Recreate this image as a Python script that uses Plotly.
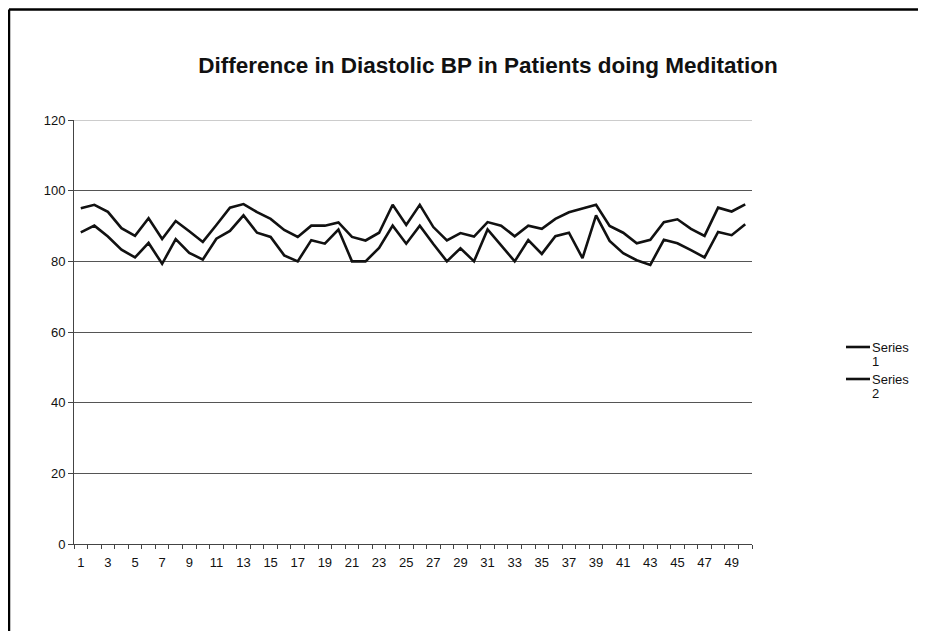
import plotly.graph_objects as go

patients = list(range(1, 51))
series1 = [95, 96, 94, 89.4, 87.2, 92.2, 86.3, 91.4, 88.5, 85.5,
           90.3, 95.2, 96.2, 93.9, 92, 88.9, 86.9, 90.1, 90.1, 91,
           86.9, 85.9, 88.1, 96, 90.3, 96, 89.7, 85.9, 88, 87,
           91.1, 90.1, 87.1, 90.1, 89.2, 92, 93.9, 94.9, 96, 90,
           88.1, 85.1, 86.1, 91.1, 91.9, 89.2, 87.2, 95.2, 94.1, 96.1]
series2 = [88.2, 90.1, 87, 83.3, 81.1, 85.2, 79.3, 86.3, 82.4, 80.5,
           86.4, 88.6, 93, 88.1, 86.9, 81.7, 80, 86, 85, 89,
           80, 80, 83.8, 90.1, 85, 90.1, 84.9, 80, 83.7, 80,
           89, 84.5, 80, 86, 82.1, 87.1, 88.1, 80.9, 93, 85.8,
           82.3, 80.3, 79, 86.1, 85.1, 83.2, 81.1, 88.3, 87.4, 90.5]
series_names = ["Series 1", "Series 2"]
legend_words = ["Series", "Series"]
legend_numbers = ["1", "2"]
x_tick_vals = list(range(1, 50, 2))
x_tick_text = [str(v) for v in x_tick_vals]
y_tick_vals = [0, 20, 40, 60, 80, 100, 120]
title_text = "Difference in Diastolic BP in Patients doing Meditation"

OFF = 8  # page body margin
W, H = 926, 631
# plot area in screen pixels
SX0, SX1, SY0, SY1 = 74, 752, 120, 544
L, R, T, B = SX0 - OFF, W - (SX1 - OFF), SY0 - OFF, H - (SY1 - OFF)
pw, ph = W - L - R, H - T - B

def px(x):  # screen x -> paper
    return (x - OFF - L) / pw

def py(y):  # screen y -> paper
    return (H - B - (y - OFF)) / ph

fig = go.Figure()
for name, vals in zip(series_names, [series1, series2]):
    fig.add_trace(go.Scatter(x=patients, y=vals, mode="lines", name=name,
                             line=dict(color="#111111", width=2.6),
                             showlegend=False))

shapes = [
    dict(type="line", xref="paper", yref="paper", x0=px(9), x1=px(940),
         y0=py(9.5), y1=py(9.5), line=dict(color="black", width=2.5)),
    dict(type="line", xref="paper", yref="paper", x0=px(9), x1=px(9),
         y0=py(9.5), y1=py(650), line=dict(color="black", width=2.5)),
    dict(type="line", xref="paper", yref="y", x0=0, x1=1, y0=120, y1=120,
         line=dict(color="#999999", width=1)),
]
annotations = []
legend_y = [347, 379]
for word, num, yy in zip(legend_words, legend_numbers, legend_y):
    shapes.append(dict(type="line", xref="paper", yref="paper",
                       x0=px(846), x1=px(870), y0=py(yy), y1=py(yy),
                       line=dict(color="#111111", width=2.6)))
    annotations.append(dict(text=word, xref="paper", yref="paper",
                            x=px(870), y=py(yy), xanchor="left", yanchor="middle",
                            showarrow=False, align="left",
                            font=dict(size=13, color="#111111")))
    annotations.append(dict(text=num, xref="paper", yref="paper",
                            x=px(870), y=py(yy + 14), xanchor="left", yanchor="middle",
                            showarrow=False, align="left",
                            font=dict(size=13, color="#111111")))

fig.update_layout(
    width=W, height=H,
    margin=dict(l=L, r=R, t=T, b=B),
    paper_bgcolor="white", plot_bgcolor="white",
    font=dict(family="Liberation Sans, Arial, sans-serif", color="#111111", size=13),
    title=dict(text="<b>" + title_text + "</b>", x=(488 - OFF) / W, xanchor="center",
               y=1 - (65 - OFF) / H, yanchor="middle",
               font=dict(size=22.5, family="Liberation Sans, Arial, sans-serif", color="#111111")),
    showlegend=False,
    xaxis=dict(range=[0.5, 50.5], tickmode="array", tickvals=x_tick_vals,
               ticktext=x_tick_text, ticks="", showgrid=False, zeroline=False,
               showline=True, linecolor="#444444", linewidth=1,
               tickfont=dict(size=13), ticklabelstandoff=6,
               minor=dict(ticks="outside", ticklen=4, tickcolor="#444444",
                          tick0=0.5, dtick=1, showgrid=False)),
    yaxis=dict(range=[0, 120], tickmode="array", tickvals=y_tick_vals,
               ticks="outside", ticklen=5, tickcolor="#444444",
               showgrid=True, gridcolor="#555555", gridwidth=1,
               zeroline=False, showline=True, linecolor="#444444", linewidth=1,
               tickfont=dict(size=13)),
    shapes=shapes,
    annotations=annotations,
)

fig.write_html("out.html")
